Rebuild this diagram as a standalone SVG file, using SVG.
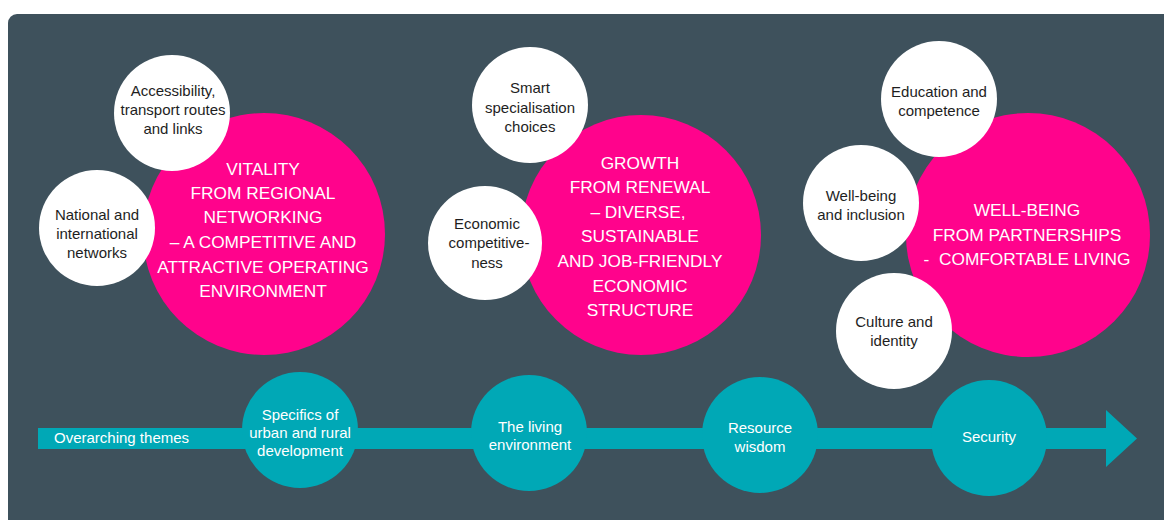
<svg xmlns="http://www.w3.org/2000/svg" width="1164" height="520" viewBox="0 0 1164 520">
<style>
.pink{fill:#ff038c}
.white{fill:#ffffff}
.teal{fill:#00a8b6}
.t{font-family:"Liberation Sans",Arial,sans-serif;text-anchor:middle}
.dark{fill:#1e1e1e;font-size:15px}
.cap{fill:#ffffff;font-size:17.3px;white-space:pre}
.lt{fill:#ffffff;font-size:15px}
</style>
<rect x="0" y="0" width="1164" height="520" fill="#ffffff"/>
<rect x="8" y="14" width="1170" height="520" rx="9" fill="#3e515c"/>

<g id="connectors">
<path class="teal" d="M38,428 H1106 V410 L1137,438.5 L1106,467 V449 H38 Z"/>
<text class="t lt" x="54" y="443" style="text-anchor:start">Overarching themes</text>
</g>

<g id="vitality">
<circle class="pink" cx="264" cy="234" r="121"/>
<text class="t cap"><tspan x="263" y="175">VITALITY</tspan><tspan x="263" y="199">FROM REGIONAL</tspan><tspan x="263" y="223">NETWORKING</tspan><tspan x="263" y="248">– A COMPETITIVE AND</tspan><tspan x="263" y="273">ATTRACTIVE OPERATING</tspan><tspan x="263" y="297">ENVIRONMENT</tspan></text>
</g>
<g id="accessibility">
<circle class="white" cx="172" cy="113" r="58"/>
<text class="t dark"><tspan x="173" y="96">Accessibility,</tspan><tspan x="173" y="115">transport routes</tspan><tspan x="173" y="134">and links</tspan></text>
</g>
<g id="national">
<circle class="white" cx="97" cy="228" r="58"/>
<text class="t dark"><tspan x="97" y="220">National and</tspan><tspan x="97" y="239">international</tspan><tspan x="97" y="258">networks</tspan></text>
</g>

<g id="growth">
<circle class="pink" cx="641" cy="235" r="120"/>
<text class="t cap"><tspan x="640" y="169">GROWTH</tspan><tspan x="640" y="193">FROM RENEWAL</tspan><tspan x="638" y="218">– DIVERSE,</tspan><tspan x="640" y="242">SUSTAINABLE</tspan><tspan x="640" y="267">AND JOB-FRIENDLY</tspan><tspan x="640" y="292">ECONOMIC</tspan><tspan x="640" y="316">STRUCTURE</tspan></text>
</g>
<g id="smart">
<circle class="white" cx="530" cy="105" r="58"/>
<text class="t dark"><tspan x="530" y="93">Smart</tspan><tspan x="530" y="113">specialisation</tspan><tspan x="530" y="132">choices</tspan></text>
</g>
<g id="competitiveness">
<circle class="white" cx="485" cy="243" r="57"/>
<text class="t dark"><tspan x="487" y="229">Economic</tspan><tspan x="489" y="248">competitive-</tspan><tspan x="487" y="268">ness</tspan></text>
</g>

<g id="wellbeing">
<circle class="pink" cx="1028" cy="235" r="122"/>
<text class="t cap"><tspan x="1027" y="216">WELL-BEING</tspan><tspan x="1027" y="241">FROM PARTNERSHIPS</tspan><tspan x="1027" y="265">-  COMFORTABLE LIVING</tspan></text>
</g>
<g id="education">
<circle class="white" cx="939" cy="99" r="58"/>
<text class="t dark"><tspan x="939" y="97">Education and</tspan><tspan x="939" y="116">competence</tspan></text>
</g>
<g id="inclusion">
<circle class="white" cx="861" cy="203" r="58"/>
<text class="t dark"><tspan x="861" y="201">Well-being</tspan><tspan x="861" y="220">and inclusion</tspan></text>
</g>
<g id="culture">
<circle class="white" cx="894" cy="331" r="58"/>
<text class="t dark"><tspan x="894" y="327">Culture and</tspan><tspan x="894" y="346">identity</tspan></text>
</g>

<g id="specifics">
<circle class="teal" cx="300" cy="430" r="58"/>
<text class="t lt"><tspan x="300" y="420">Specifics of</tspan><tspan x="300" y="438">urban and rural</tspan><tspan x="300" y="456">development</tspan></text>
</g>
<g id="living">
<circle class="teal" cx="529" cy="433" r="58"/>
<text class="t lt"><tspan x="530" y="432">The living</tspan><tspan x="530" y="450">environment</tspan></text>
</g>
<g id="resource">
<circle class="teal" cx="760" cy="435" r="58"/>
<text class="t lt"><tspan x="760" y="433">Resource</tspan><tspan x="760" y="452">wisdom</tspan></text>
</g>
<g id="security">
<circle class="teal" cx="989" cy="438" r="58"/>
<text class="t lt"><tspan x="989" y="442">Security</tspan></text>
</g>
</svg>
